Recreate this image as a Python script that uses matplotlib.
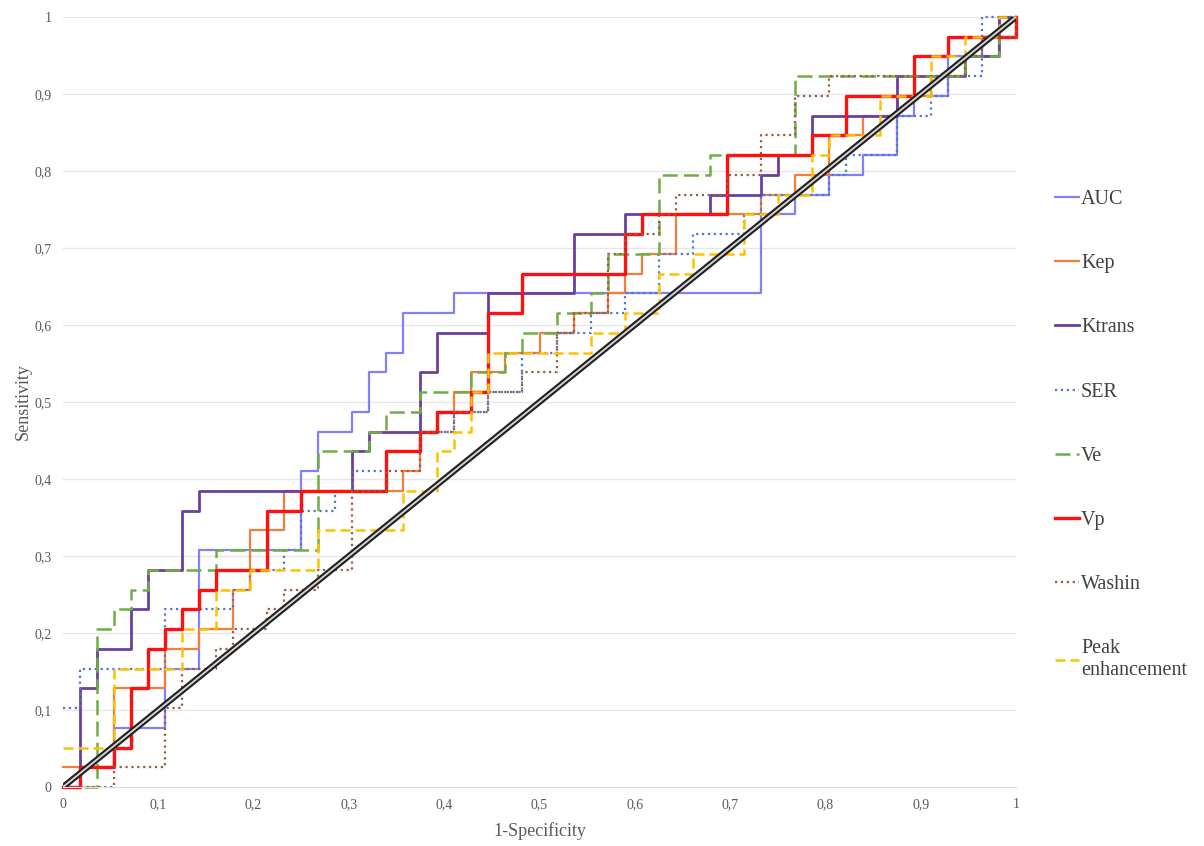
import numpy as np
import matplotlib
matplotlib.use("Agg")
import matplotlib.pyplot as plt

# ROC steps: (false positive count, true positive count)
# 56 negatives, 39 positives
n_neg = 56
n_pos = 39

auc_fp = [0, 1, 3, 6, 8, 14, 15, 17, 18, 19, 20, 23, 41, 43, 45, 47, 49, 50, 52, 54, 55, 56]
auc_tp = [0, 1, 3, 6, 12, 16, 18, 19, 21, 22, 24, 25, 29, 30, 31, 32, 34, 35, 37, 38, 39, 39]

kep_fp = [0, 3, 6, 8, 10, 11, 13, 20, 21, 22, 23, 24, 26, 28, 30, 31, 32, 33, 34, 36, 41, 43, 45, 47, 49, 51, 53, 55, 56]
kep_tp = [1, 5, 7, 8, 10, 13, 15, 16, 18, 19, 20, 21, 22, 23, 24, 24, 25, 26, 27, 29, 30, 31, 33, 34, 35, 36, 37, 38, 39]

ktrans_fp = [0, 1, 2, 4, 5, 7, 8, 17, 18, 21, 22, 25, 30, 33, 38, 41, 42, 44, 49, 53, 55, 56]
ktrans_tp = [0, 5, 7, 9, 11, 14, 15, 17, 18, 21, 23, 25, 28, 29, 30, 31, 32, 34, 36, 37, 39, 39]

ser_fp = [0, 1, 6, 10, 11, 13, 14, 16, 17, 19, 21, 23, 25, 27, 29, 31, 33, 35, 37, 40, 41, 45, 46, 49, 51, 52, 54, 56]
ser_tp = [4, 6, 9, 10, 11, 12, 14, 15, 16, 17, 18, 19, 20, 22, 23, 24, 25, 27, 28, 29, 30, 31, 32, 34, 35, 36, 39, 39]

ve_fp = [0, 2, 3, 4, 5, 9, 15, 18, 19, 21, 24, 26, 27, 29, 31, 32, 35, 38, 43, 53, 55, 56]
ve_tp = [0, 8, 9, 10, 11, 12, 17, 18, 19, 20, 21, 22, 23, 24, 25, 27, 31, 32, 36, 37, 38, 39]

vp_fp = [0, 1, 3, 4, 5, 6, 7, 8, 9, 12, 14, 19, 21, 22, 24, 25, 27, 33, 34, 39, 44, 46, 50, 52, 56]
vp_tp = [0, 1, 2, 5, 7, 8, 9, 10, 11, 14, 15, 17, 18, 19, 20, 24, 26, 28, 29, 32, 33, 35, 37, 38, 39]

washin_fp = [0, 3, 6, 7, 9, 10, 12, 13, 15, 17, 19, 21, 23, 25, 27, 29, 30, 32, 33, 35, 36, 39, 41, 43, 45, 53, 54, 56]
washin_tp = [0, 1, 4, 6, 7, 8, 9, 10, 11, 15, 16, 18, 19, 20, 21, 23, 24, 27, 28, 29, 30, 31, 33, 35, 36, 37, 38, 39]

peak_fp = [0, 3, 7, 9, 11, 15, 20, 22, 23, 24, 25, 31, 33, 35, 37, 40, 42, 44, 45, 48, 51, 53, 55, 56]
peak_tp = [2, 6, 8, 10, 11, 13, 15, 17, 18, 20, 22, 23, 24, 26, 27, 29, 30, 32, 33, 35, 37, 38, 39, 39]

names = ["AUC", "Kep", "Ktrans", "SER", "Ve", "Vp", "Washin", "Peak\nenhancement"]
fps = [auc_fp, kep_fp, ktrans_fp, ser_fp, ve_fp, vp_fp, washin_fp, peak_fp]
tps = [auc_tp, kep_tp, ktrans_tp, ser_tp, ve_tp, vp_tp, washin_tp, peak_tp]

colors = ["#8080FF", "#F07F3C", "#6A3FA0", "#4F78C8", "#70AD47", "#FF1010", "#9E5A3C", "#FFC000"]
styles = ["-", "-", "-", ":", (0, (6, 2.5)), "-", ":", (0, (4, 2))]
widths = [1.6, 1.6, 2.0, 1.6, 1.8, 2.4, 1.6, 1.8]

plt.rcParams['font.family'] = ['Liberation Serif', 'DejaVu Serif']

fig = plt.figure(figsize=(12.04, 8.46), dpi=100)
ax = fig.add_axes([0.0523, 0.0697, 0.7916, 0.9103])

for fp, tp, name, c, ls, lw in zip(fps, tps, names, colors, styles, widths):
    x = np.array(fp) / n_neg
    y = np.array(tp) / n_pos
    ax.plot(x, y, drawstyle="steps-post", color=c, ls=ls, lw=lw, label=name, clip_on=False)

# diagonal reference
ax.plot([0, 1], [0, 1], color="#222222", lw=4.4, solid_capstyle="butt", zorder=5)
ax.plot([0, 1], [0, 1], color="#d8d8d8", lw=1.3, solid_capstyle="butt", zorder=6)

ax.set_xlim(0, 1)
ax.set_ylim(0, 1)
ticks = np.arange(0, 1.01, 0.1)
labels = ["0"] + ["0,%d" % i for i in range(1, 10)] + ["1"]
ax.set_xticks(ticks)
ax.set_xticklabels(labels)
ax.set_yticks(ticks)
ax.set_yticklabels(labels)
ax.tick_params(length=0, labelsize=10, labelcolor="#595959", pad=8)
ax.grid(axis="y", color="#e6e6e6", lw=1)
ax.set_axisbelow(True)
for s in ["top", "right", "left"]:
    ax.spines[s].set_visible(False)
ax.spines["bottom"].set_color("#e0e0e0")

ax.set_xlabel("1-Specificity", fontsize=13, color="#595959", labelpad=8)
ax.set_ylabel("Sensitivity", fontsize=13, color="#595959", labelpad=2)

fig.legend(loc="upper left", bbox_to_anchor=(0.861, 0.797), frameon=False,
           fontsize=14.5, labelspacing=2.24, handlelength=1.2, handletextpad=0.1,
           labelcolor="#404040")

fig.savefig("out.png", dpi=100)
